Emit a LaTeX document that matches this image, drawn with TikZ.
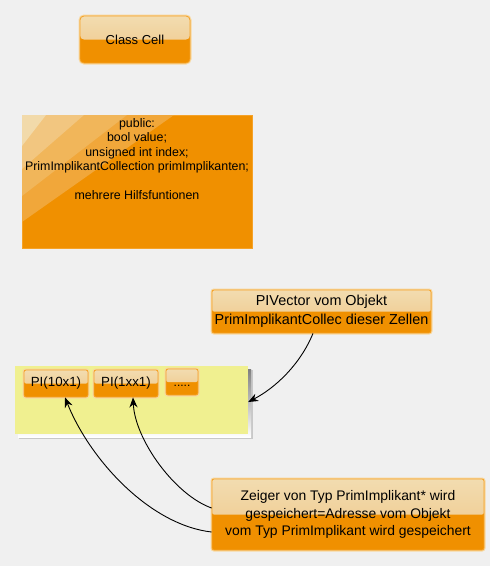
\documentclass[tikz,border=0pt]{standalone}
\usepackage{fontspec}
\setmainfont{Liberation Sans}
\usetikzlibrary{arrows.meta}
\definecolor{bg}{HTML}{F0F0F0}
\definecolor{org}{HTML}{F09000}
\definecolor{orgline}{HTML}{F5A228}
\definecolor{glow}{HTML}{F8D8A0}
\definecolor{lighttop}{HTML}{F2DCB0}
\definecolor{lightbot}{HTML}{EFC585}
\definecolor{notey}{HTML}{F0F090}
\definecolor{shade}{HTML}{A0A0A0}
\definecolor{shadeb}{HTML}{C8C8C8}
\definecolor{bandA}{HTML}{F1A73A}
\definecolor{bandB}{HTML}{F1B65A}
\definecolor{bandC}{HTML}{F2C680}
\definecolor{bandD}{HTML}{F2DAAA}
\tikzset{
  twotone/.style={draw=orgline, line width=0.8pt, fill=org, rounded corners=2pt,
    inner sep=0pt, align=center, text=black,
    preaction={draw=glow, line width=3pt},
    path picture={\fill[top color=lighttop, bottom color=lightbot]
      (path picture bounding box.north west) rectangle (path picture bounding box.east);}},
  arr/.style={-{Stealth[length=10pt,width=8pt]}, line width=0.9pt, black}
}
\begin{document}
\begin{tikzpicture}[x=1pt,y=-1pt]
\fill[bg] (0,0) rectangle (490,566);
\useasboundingbox (0,0) rectangle (490,566);

% Class Cell
\node[twotone, rounded corners=4pt, minimum width=110pt, minimum height=47pt,
  font=\fontsize{13}{15}\selectfont] (cell) at (135,39.5) {Class Cell};

% big box
\node[fill=org, draw=orgline, line width=0.6pt, minimum width=230pt, minimum height=133pt,
  inner sep=0pt] (big) at (137,181.5) {};
\begin{scope}
  \clip (22,115) rectangle (252,248);
  \fill[bandA] (22,115) -- (174,115) -- (22,222) -- cycle;
  \fill[bandB] (22,115) -- (127,115) -- (22,196) -- cycle;
  \fill[bandC] (22,115) -- (84,115) -- (22,169) -- cycle;
  \fill[bandD] (22,115) -- (46,115) -- (22,146) -- cycle;
\end{scope}
\node[anchor=north, align=center, inner sep=0pt, text=black,
  font=\fontsize{12.4}{14.5}\selectfont] (bigtext) at (137,118)
  {public:\\bool value;\\unsigned int index;\\PrimImplikantCollection primImplikanten;\\[14.5pt]mehrere Hilfsfuntionen};

% PIVector box
\node[twotone, minimum width=219pt, minimum height=43pt,
  font=\fontsize{14.4}{19}\selectfont] (pivec) at (321.5,311.5)
  {PIVector vom Objekt\\PrimImplikantCollec dieser Zellen};

% yellow note with shadow
\fill[shadeb] (19,370) rectangle (253,439);
\fill[shade] (18,369) rectangle (251,437);
\node[fill=notey, minimum width=233pt, minimum height=68pt, inner sep=0pt] (note) at (131.5,400) {};

\node[twotone, minimum width=64pt, minimum height=27pt,
  font=\fontsize{13.3}{15}\selectfont] (pia) at (56,383.5) {PI(10x1)};
\node[twotone, minimum width=64pt, minimum height=27pt,
  font=\fontsize{13.3}{15}\selectfont] (pib) at (126,383.5) {PI(1xx1)};
\node[twotone, minimum width=32pt, minimum height=26pt,
  font=\fontsize{12}{14}\selectfont] (dots) at (182,382) {\raisebox{-4.5pt}[0pt][0pt]{.....}};

% bottom box
\node[twotone, minimum width=272pt, minimum height=71pt,
  font=\fontsize{13.9}{17.5}\selectfont] (ptr) at (348,514.5)
  {Zeiger von Typ PrimImplikant* wird\\gespeichert=Adresse vom Objekt\\vom Typ PrimImplikant wird gespeichert};

% connectors
\draw[arr] ([xshift=-8.5pt]pivec.south) .. controls (300,365) and (275,388) .. ([yshift=-2pt]note.east);
\draw[arr] ([yshift=-17.5pt]ptr.west) .. controls (150,525) and (90,460) .. ([xshift=9pt]pia.south);
\draw[arr] ([yshift=6.5pt]ptr.west) .. controls (175,495) and (135,440) .. ([xshift=7pt]pib.south);
\end{tikzpicture}
\end{document}
